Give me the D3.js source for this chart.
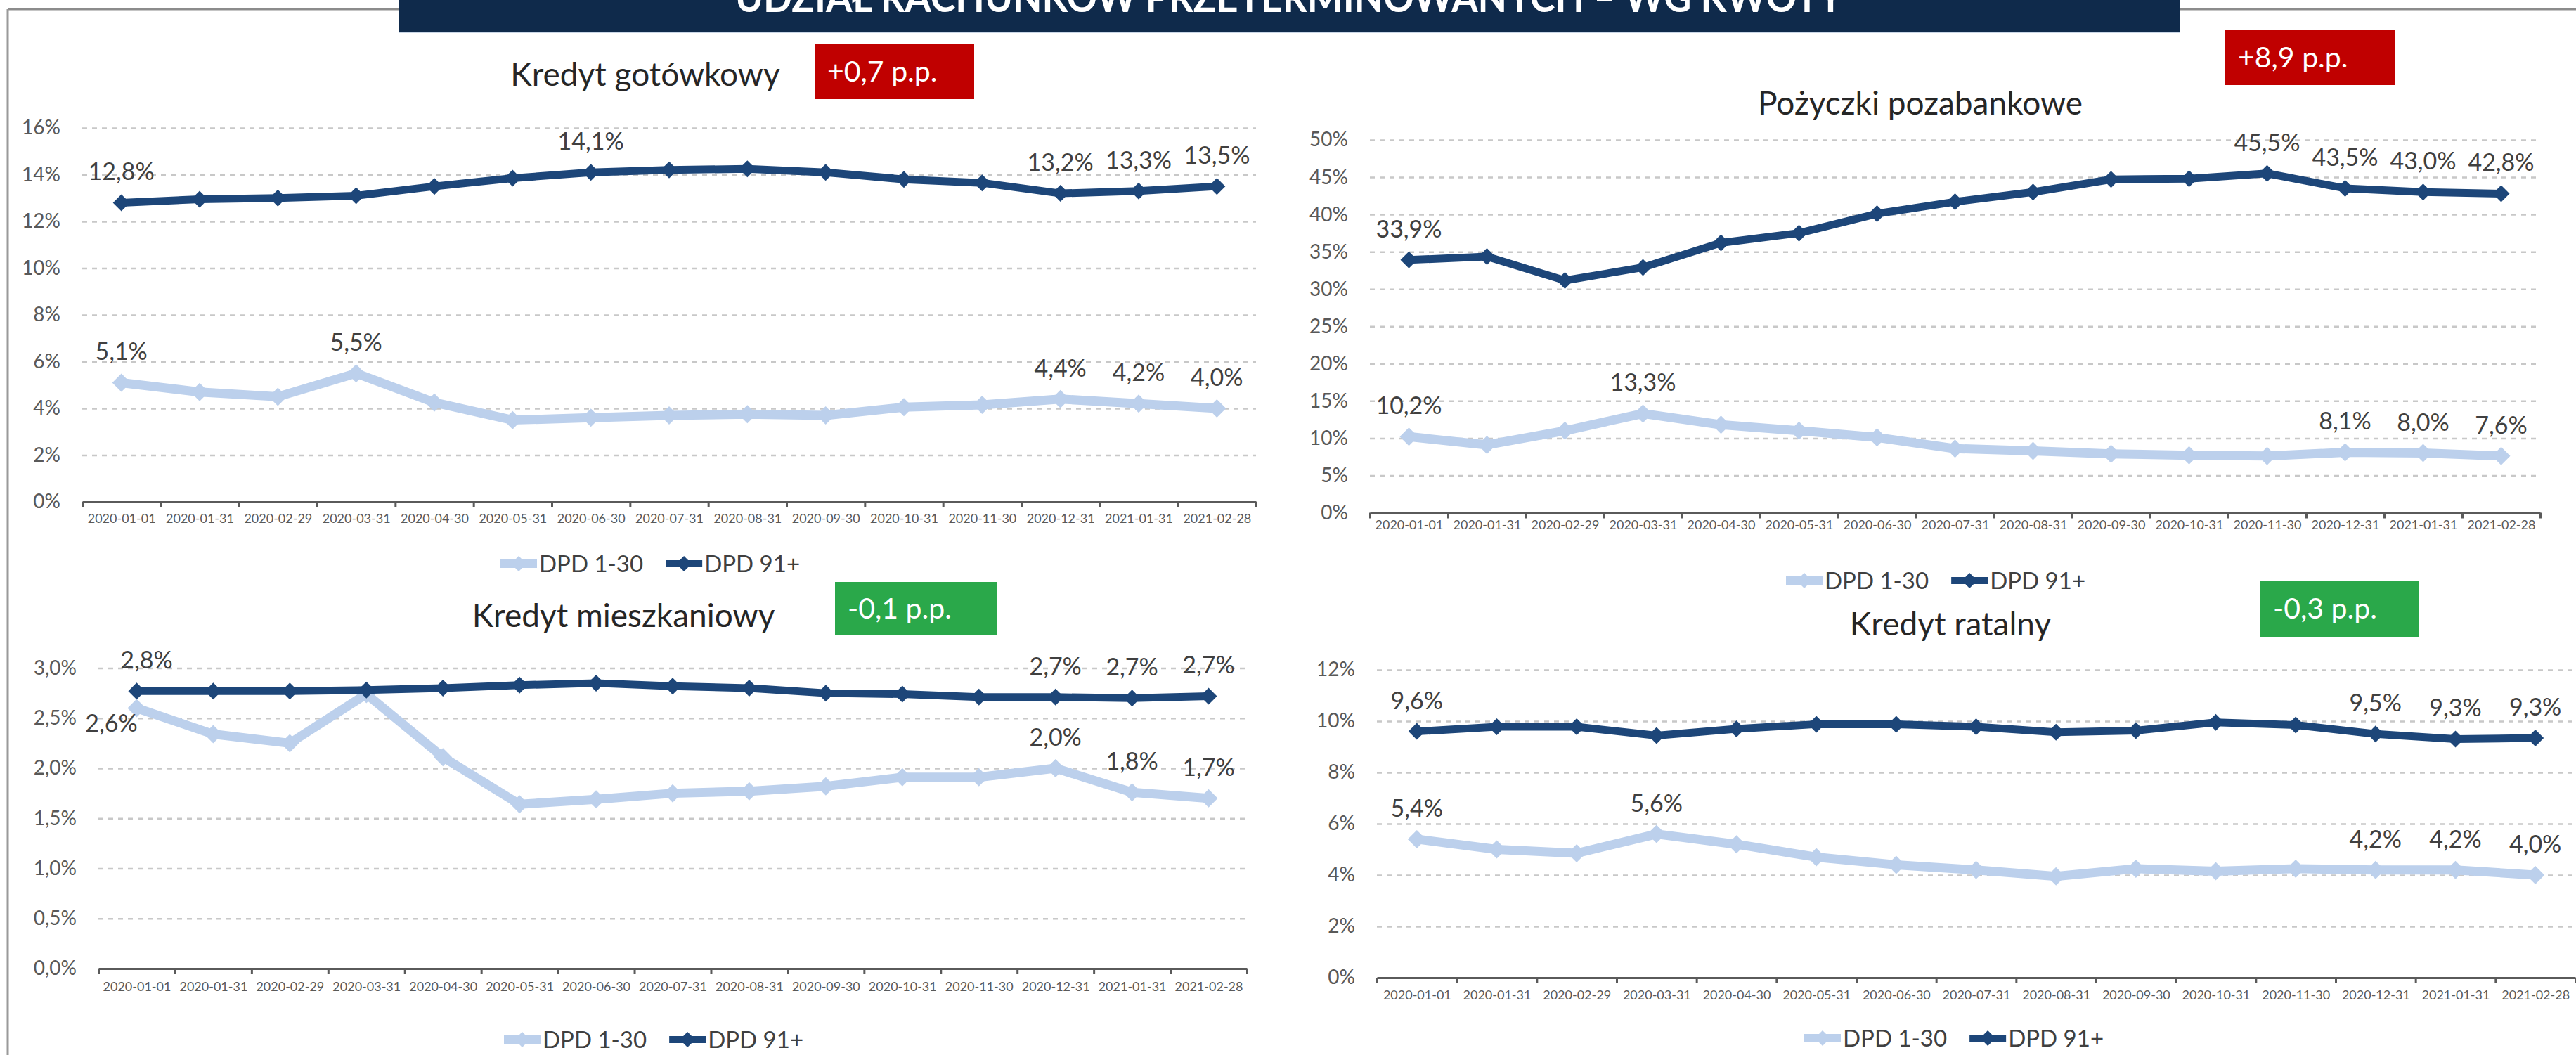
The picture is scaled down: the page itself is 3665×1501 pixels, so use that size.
<!DOCTYPE html>
<html>
<head>
<meta charset="utf-8">
<script src="https://cdn.jsdelivr.net/npm/d3@7.9.0/dist/d3.min.js"></script>
<style>
  html, body { margin: 0; padding: 0; background: #fff; }
  svg { display: block; font-family: Lato, 'Open Sans', sans-serif; }
</style>
</head>
<body>
<svg id="chart" width="3665" height="1501"></svg>
<script>
// --- data ---
const dates = ['2020-01-01', '2020-01-31', '2020-02-29', '2020-03-31', '2020-04-30',
  '2020-05-31', '2020-06-30', '2020-07-31', '2020-08-31', '2020-09-30',
  '2020-10-31', '2020-11-30', '2020-12-31', '2021-01-31', '2021-02-28'];
const seriesNames = ['DPD 1-30', 'DPD 91+'];

const gotowkowy130 = [5.1, 4.7, 4.5, 5.5, 4.25, 3.5, 3.6, 3.7, 3.75, 3.7, 4.05, 4.15, 4.4, 4.2, 4.0];
const gotowkowy91 = [12.8, 12.95, 13.0, 13.1, 13.5, 13.85, 14.1, 14.2, 14.25, 14.1, 13.8, 13.65, 13.2, 13.3, 13.5];

const pozabankowe130 = [10.2, 9.1, 11.0, 13.3, 11.8, 11.0, 10.1, 8.6, 8.3, 7.9, 7.7, 7.6, 8.1, 8.0, 7.6];
const pozabankowe91 = [33.9, 34.35, 31.15, 32.9, 36.2, 37.5, 40.1, 41.7, 43.0, 44.7, 44.8, 45.5, 43.5, 43.0, 42.8];

const mieszkaniowy130 = [2.6, 2.34, 2.25, 2.74, 2.11, 1.64, 1.69, 1.75, 1.77, 1.82, 1.91, 1.91, 2.0, 1.76, 1.7];
const mieszkaniowy91 = [2.77, 2.77, 2.77, 2.78, 2.8, 2.83, 2.85, 2.82, 2.8, 2.75, 2.74, 2.71, 2.71, 2.7, 2.72];

const ratalny130 = [5.4, 5.0, 4.85, 5.6, 5.2, 4.7, 4.4, 4.2, 3.95, 4.25, 4.15, 4.25, 4.2, 4.2, 4.0];
const ratalny91 = [9.6, 9.78, 9.78, 9.44, 9.7, 9.88, 9.88, 9.78, 9.57, 9.63, 9.95, 9.85, 9.5, 9.3, 9.34];

const titles = ['Kredyt gotówkowy', 'Pożyczki pozabankowe', 'Kredyt mieszkaniowy', 'Kredyt ratalny'];
const changes = ['+0,7 p.p.', '+8,9 p.p.', '-0,1 p.p.', '-0,3 p.p.'];
const yMaxes = [16, 50, 3, 12];
const ySteps = [2, 5, 0.5, 2];
const yDecimals = [0, 0, 1, 0];
// indices of points that carry a data label
const labeled130 = [[0, 3, 12, 13, 14], [0, 3, 12, 13, 14], [0, 12, 13, 14], [0, 3, 12, 13, 14]];
const labeled91 = [[0, 6, 12, 13, 14], [0, 11, 12, 13, 14], [0, 12, 13, 14], [0, 12, 13, 14]];
const mainTitle = 'UDZIAŁ RACHUNKÓW PRZETERMINOWANYCH – WG KWOTY';

const values130 = [gotowkowy130, pozabankowe130, mieszkaniowy130, ratalny130];
const values91 = [gotowkowy91, pozabankowe91, mieszkaniowy91, ratalny91];

// --- layout (pixels) ---
const layout = [
  { x0: 117, x1: 1787, yBase: 714, yTop: 182, titleX: 918, titleY: 106, badge: [1159, 63, 227, 78], legend: [712, 802], xlab: 25 },
  { x0: 1949, x1: 3614, yBase: 729.5, yTop: 199, titleX: 2732, titleY: 147, badge: [3166, 42, 241, 79], legend: [2541, 826], xlab: 19 },
  { x0: 140, x1: 1774, yBase: 1378, yTop: 950.5, titleX: 887, titleY: 876, badge: [1188, 828, 230, 75], legend: [717, 1479], xlab: 27 },
  { x0: 1959, x1: 3664, yBase: 1391, yTop: 953, titleX: 2775, titleY: 888, badge: [3216, 826, 226, 80], legend: [2567, 1477], xlab: 26 }
];

const colLight = '#bcd0ec';
const colDark = '#1d4679';
const colText = '#404040';
const colAxisText = '#595959';

const pl = d3.formatLocale({ decimal: ',', thousands: ' ', grouping: [3], currency: ['', ' zł'] });
const fmt1 = pl.format('.1f');

const svg = d3.select('#chart');

// frame lines and banner
svg.append('line').attr('x1', 11).attr('x2', 3665).attr('y1', 13).attr('y2', 13)
  .attr('stroke', '#8c8c8c').attr('stroke-width', 3);
svg.append('line').attr('x1', 11).attr('x2', 11).attr('y1', 13).attr('y2', 1501)
  .attr('stroke', '#9a9a9a').attr('stroke-width', 3);
svg.append('rect').attr('x', 568).attr('y', -5).attr('width', 2533).attr('height', 50)
  .attr('fill', '#0f2a4b');
svg.append('line').attr('x1', 568).attr('x2', 3101).attr('y1', 46).attr('y2', 46)
  .attr('stroke', '#c9d6e6').attr('stroke-width', 2);
svg.append('text').attr('x', 1834).attr('y', 17).attr('text-anchor', 'middle')
  .attr('fill', '#fff').attr('font-weight', 700).attr('font-size', 58)
  .attr('textLength', 1576).attr('lengthAdjust', 'spacingAndGlyphs')
  .text(mainTitle);

const diamond = r => `M0,${-r}L${r},0L0,${r}L${-r},0Z`;

layout.forEach((L, p) => {
  const g = svg.append('g');

  const x = d3.scalePoint().domain(dates).range([L.x0, L.x1]).padding(0.5);
  const y = d3.scaleLinear().domain([0, yMaxes[p]]).range([L.yBase, L.yTop]);
  const tickVals = d3.range(0, yMaxes[p] + ySteps[p] / 2, ySteps[p]);
  const yFmt = yDecimals[p] ? (d => fmt1(d) + '%') : (d => d3.format('d')(d) + '%');

  // gridlines
  g.append('g').attr('transform', `translate(${L.x0},0)`)
    .call(d3.axisLeft(y).tickValues(tickVals.slice(1)).tickSize(-(L.x1 - L.x0)).tickFormat(''))
    .call(s => s.select('.domain').remove())
    .call(s => s.selectAll('line').attr('stroke', '#c8c8c8').attr('stroke-width', 2.5)
      .attr('stroke-dasharray', '7,7'));

  // y labels
  g.append('g').attr('transform', `translate(${L.x0},0)`)
    .call(d3.axisLeft(y).tickValues(tickVals).tickSize(0).tickPadding(31).tickFormat(yFmt))
    .call(s => s.select('.domain').remove())
    .call(s => s.selectAll('text').attr('font-size', 28).attr('fill', colAxisText)
      .attr('font-family', 'Lato, sans-serif'));

  // x axis: line + boundary ticks
  const xb = d3.scaleLinear().domain([0, dates.length]).range([L.x0, L.x1]);
  g.append('g').attr('transform', `translate(0,${L.yBase})`)
    .call(d3.axisBottom(xb).tickValues(d3.range(0, dates.length + 1)).tickSize(8).tickSizeOuter(0).tickFormat(''))
    .call(s => s.select('.domain').attr('stroke', '#5a5a5a').attr('stroke-width', 3))
    .call(s => s.selectAll('line').attr('stroke', '#5a5a5a').attr('stroke-width', 3));

  g.append('g').attr('transform', `translate(0,${L.yBase})`)
    .call(d3.axisBottom(x).tickSize(0).tickPadding(L.xlab - 8))
    .call(s => s.select('.domain').remove())
    .call(s => s.selectAll('text').attr('font-size', 18).attr('fill', colAxisText)
      .attr('font-family', 'Lato, sans-serif'));

  // lines
  const line = d3.line().x((d, i) => x(dates[i])).y(d => y(d));
  const sets = [
    { vals: values130[p], color: colLight, width: 13, r: 13, lab: labeled130[p] },
    { vals: values91[p], color: colDark, width: 11, r: 12, lab: labeled91[p] }
  ];
  sets.forEach(s => {
    g.append('path').datum(s.vals).attr('d', line).attr('fill', 'none')
      .attr('stroke', s.color).attr('stroke-width', s.width).attr('stroke-linejoin', 'round');
    g.selectAll(null).data(s.vals).join('path')
      .attr('transform', (d, i) => `translate(${x(dates[i])},${y(d)})`)
      .attr('d', diamond(s.r)).attr('fill', s.color);
  });

  // data labels
  sets.forEach((s, si) => {
    s.lab.forEach(i => {
      let dx = 0, dy = -44;
      if (p === 2 && si === 0 && i === 0) { dx = -36; dy = 22; }
      if (p === 2 && si === 1 && i === 0) { dx = 14; }
      g.append('text')
        .attr('x', x(dates[i]) + dx).attr('y', y(s.vals[i]) + dy).attr('dy', '0.35em')
        .attr('text-anchor', 'middle').attr('font-size', 34).attr('fill', colText)
        .text(fmt1(s.vals[i]) + '%');
    });
  });

  // title
  g.append('text').attr('x', L.titleX).attr('y', L.titleY).attr('dy', '0.35em')
    .attr('text-anchor', 'middle').attr('font-size', 46).attr('fill', '#262626')
    .text(titles[p]);

  // badge
  const [bx, by, bw, bh] = L.badge;
  const up = changes[p].startsWith('+');
  g.append('rect').attr('x', bx).attr('y', by).attr('width', bw).attr('height', bh)
    .attr('fill', up ? '#c00000' : '#2aa84a');
  g.append('text').attr('x', bx + 18).attr('y', by + bh / 2).attr('dy', '0.35em')
    .attr('font-size', 41).attr('fill', '#fff').text(changes[p]);

  // legend
  const lg = g.append('g').attr('transform', `translate(${L.legend[0]},${L.legend[1]})`);
  let cx = 0;
  [colLight, colDark].forEach((c, k) => {
    lg.append('line').attr('x1', cx).attr('x2', cx + 52).attr('y1', 0).attr('y2', 0)
      .attr('stroke', c).attr('stroke-width', k ? 10 : 12);
    lg.append('path').attr('transform', `translate(${cx + 26},0)`).attr('d', diamond(11)).attr('fill', c);
    const t = lg.append('text').attr('x', cx + 55).attr('y', 0).attr('dy', '0.35em')
      .attr('font-size', 33).attr('fill', colText).text(seriesNames[k]);
    cx += 55 + t.node().getComputedTextLength() + 32;
  });
});
</script>
</body>
</html>
